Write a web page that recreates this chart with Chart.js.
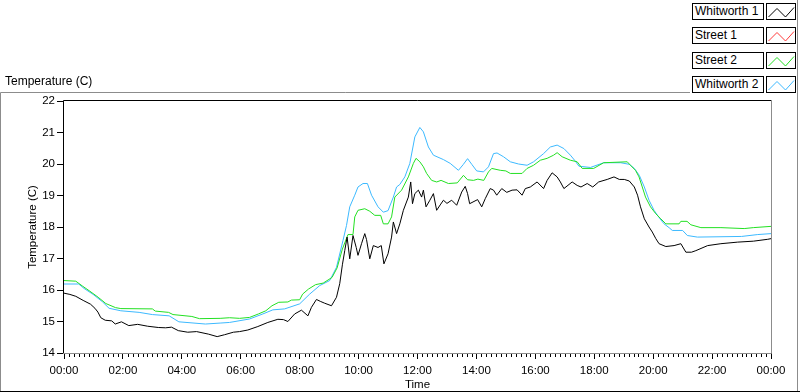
<!DOCTYPE html>
<html><head><meta charset="utf-8">
<script src="https://cdn.jsdelivr.net/npm/chart.js@4.4.1/dist/chart.umd.min.js"></script>
<style>
html,body{margin:0;padding:0;background:#fff;width:800px;height:392px;overflow:hidden;font-family:'Liberation Sans',Arial,sans-serif;}
#wrap{position:relative;width:800px;height:392px;}
#c{position:absolute;left:0;top:0;}
#plotname{position:absolute;left:5px;top:74px;font-size:12px;line-height:14px;color:#000;}
.lname{position:absolute;left:692px;width:68px;height:15px;border:1px solid #000;font-size:12px;line-height:15px;padding-left:2px;box-sizing:content-box;background:#fff;white-space:nowrap;}
.lglyph{position:absolute;left:766px;width:28px;height:15px;border:1px solid #000;background:#fff;}
</style></head>
<body><div id="wrap"><canvas id="c" width="800" height="392"></canvas><div id="plotname">Temperature (C)</div></div>
<script>
// ---- data (time in hours, temperature in °C) ----
const seriesNames = ['Whitworth 1','Street 1','Street 2','Whitworth 2'];
const seriesColors = ['#000000','#ff3a3a','#22e022','#3cb9ff'];
const xTickLabels = ['00:00','02:00','04:00','06:00','08:00','10:00','12:00','14:00','16:00','18:00','20:00','22:00','00:00'];

const w1Hours = [0,0.2,0.4,0.65,0.9,1.05,1.15,1.25,1.4,1.62,1.74,1.95,2.2,2.5,2.84,3.2,3.45,3.65,3.88,4.2,4.5,4.9,5.2,5.45,5.75,5.96,6.24,6.58,6.92,7.26,7.45,7.6,7.83,8.06,8.28,8.4,8.57,8.7,8.85,9.08,9.25,9.36,9.45,9.53,9.61,9.7,9.81,9.92,9.98,10.1,10.21,10.27,10.38,10.5,10.66,10.77,10.86,11,11.12,11.18,11.29,11.4,11.52,11.69,11.77,11.83,11.91,12.03,12.14,12.2,12.29,12.42,12.54,12.65,12.77,12.88,13,13.16,13.33,13.5,13.62,13.7,13.77,14.04,14.18,14.3,14.47,14.58,14.69,14.86,15.03,15.21,15.38,15.55,15.66,15.83,16.06,16.28,16.4,16.57,16.74,16.85,16.97,17.25,17.42,17.55,17.76,17.95,18.15,18.44,18.67,18.85,19.02,19.19,19.36,19.47,19.57,19.7,19.86,19.97,20.09,20.2,20.43,20.71,20.94,21.11,21.3,21.45,21.85,22.3,22.87,23.4,23.89,24];
const w1Temps = [15.9,15.86,15.8,15.67,15.55,15.42,15.3,15.12,15.04,15.02,14.92,14.99,14.87,14.91,14.85,14.81,14.8,14.82,14.71,14.66,14.68,14.6,14.52,14.58,14.66,14.68,14.73,14.84,14.97,15.07,15.06,15,15.24,15.36,15.18,15.45,15.7,15.64,15.58,15.5,15.77,16.2,16.8,17.25,17.68,16.99,17.73,17.35,17.1,17.47,17.79,17.6,16.99,17.41,17.35,17.41,16.83,17.15,17.68,18.16,17.79,18.1,18.53,18.95,19.43,18.74,19.06,19.17,18.95,19.17,18.64,18.85,19.06,18.53,18.7,18.85,18.75,18.85,18.69,19.11,19.29,19.06,18.74,18.87,18.64,18.9,19.22,19.17,19.01,19.22,19.1,19.17,19.18,19.01,19.22,19.27,19.43,19.22,19.48,19.72,19.59,19.43,19.22,19.43,19.32,19.27,19.38,19.27,19.43,19.51,19.59,19.51,19.51,19.46,19.27,19.01,18.64,18.26,18,17.84,17.63,17.47,17.38,17.41,17.47,17.2,17.2,17.25,17.41,17.47,17.52,17.55,17.61,17.63];

const s1Hours = [];
const s1Temps = [];

const s2Hours = [0,0.4,0.62,0.88,1.16,1.42,1.75,1.93,3,3.1,3.55,3.7,4.34,4.6,5.3,5.62,5.96,6.3,6.6,6.85,7.06,7.29,7.6,7.72,8,8.1,8.3,8.54,8.8,9.1,9.27,9.45,9.64,9.81,9.87,9.98,10.21,10.38,10.55,10.75,10.84,11,11.12,11.23,11.46,11.69,11.86,11.95,12.08,12.2,12.31,12.48,12.65,12.8,13.05,13.35,13.56,13.7,13.9,14.05,14.25,14.41,14.52,14.81,15,15.15,15.55,15.72,15.94,16.17,16.4,16.62,16.74,16.91,17.19,17.42,17.59,17.98,18.32,19.12,19.23,19.4,19.52,19.63,19.74,19.91,20.09,20.26,20.43,20.88,20.94,21.15,21.28,21.62,22.3,23.09,23.4,24];
const s2Temps = [16.3,16.28,16.13,15.96,15.77,15.57,15.44,15.41,15.4,15.33,15.29,15.22,15.16,15.09,15.1,15.12,15.1,15.13,15.24,15.34,15.5,15.61,15.62,15.68,15.69,15.87,16.03,16.17,16.22,16.4,16.7,17.3,17.76,17.76,18.32,18.53,18.58,18.5,18.37,18.37,18.1,18.1,18.32,18.95,19.17,19.59,20.02,20.18,20.07,19.91,19.7,19.48,19.43,19.48,19.38,19.4,19.64,19.5,19.48,19.52,19.48,19.75,19.86,19.8,19.78,19.7,19.7,19.86,19.96,20.12,20.18,20.28,20.36,20.23,20.12,20.07,19.86,19.86,20.04,20.07,19.96,19.8,19.59,19.27,18.95,18.64,18.42,18.26,18.1,18.1,18.18,18.18,18.07,17.98,17.98,17.95,17.98,18.02];

const w2Hours = [0,0.5,0.68,0.99,1.3,1.53,1.93,2.55,3,3.57,3.9,4.8,5.3,5.62,6.3,6.75,7.09,7.49,8,8.34,8.68,9.02,9.25,9.47,9.59,9.7,9.87,9.98,10.15,10.3,10.44,10.66,10.84,11,11.18,11.29,11.4,11.57,11.74,11.91,12.08,12.2,12.37,12.54,12.88,13.11,13.39,13.55,13.7,13.85,14.01,14.24,14.41,14.58,14.7,14.92,15.15,15.43,15.72,15.94,16.28,16.51,16.74,16.97,17.19,17.35,17.48,17.87,18.32,18.9,19.19,19.36,19.53,19.7,19.86,20.03,20.2,20.37,20.54,20.65,21,21.16,21.5,23,23.55,24];
const w2Temps = [16.19,16.19,16.05,15.86,15.63,15.42,15.34,15.29,15.22,15.18,14.99,14.92,14.95,14.97,15.08,15.24,15.37,15.4,15.56,15.87,16.14,16.3,16.72,17.57,18.05,18.64,19.01,19.27,19.38,19.38,19.01,18.64,18.47,18.52,18.95,19.27,19.35,19.59,20.02,20.86,21.16,21.02,20.54,20.28,20.14,20.02,19.8,19.98,20.17,19.98,19.78,19.75,19.91,20.33,20.35,20.23,20.07,20,19.96,20.07,20.33,20.54,20.6,20.49,20.28,20.1,19.93,19.89,20.04,20.04,19.99,19.86,19.64,19.27,18.85,18.53,18.3,18.1,17.98,17.89,17.89,17.73,17.68,17.7,17.76,17.79];

const seriesHours = [w1Hours, s1Hours, s2Hours, w2Hours];
const seriesTemps = [w1Temps, s1Temps, s2Temps, w2Temps];

// ---- legend (HTML) ----
const wrap = document.getElementById('wrap');
seriesNames.forEach((n,i)=>{
  const top = 3 + i*24.3;
  const a = document.createElement('div'); a.className='lname'; a.style.top=top+'px'; a.textContent=n; wrap.appendChild(a);
  const g = document.createElement('div'); g.className='lglyph'; g.style.top=top+'px';
  g.innerHTML = '<svg width="28" height="15" style="display:block"><polyline points="1.5,13 10,4.5 18.5,13 27,3.5" fill="none" stroke="'+seriesColors[i]+'" stroke-width="1"/></svg>';
  wrap.appendChild(g);
});

const FONT = {family:"'Liberation Sans', Arial, sans-serif", size:11.5};

const framePlugin = {
  id:'frame',
  afterDraw(chart){
    const ctx = chart.ctx, a = chart.chartArea;
    const L=Math.round(a.left), R=Math.round(a.right), T=Math.round(a.top), B=Math.round(a.bottom);
    ctx.save();
    ctx.lineWidth=1;
    ctx.strokeStyle='#8c8c8c';
    ctx.beginPath();
    ctx.moveTo(0.5,392); ctx.lineTo(0.5,92.5); ctx.lineTo(690,92.5);
    ctx.moveTo(797.5,0); ctx.lineTo(797.5,392);
    ctx.stroke();
    ctx.strokeStyle='#000';
    ctx.beginPath(); ctx.moveTo(0,391.5); ctx.lineTo(800,391.5); ctx.stroke();
    ctx.strokeStyle='#000';
    ctx.beginPath(); ctx.moveTo(L-0.5,B); ctx.lineTo(L-0.5,T-0.5); ctx.lineTo(R,T-0.5); ctx.stroke();
    ctx.strokeStyle='#8c8c8c';
    ctx.beginPath(); ctx.moveTo(L-1,B+0.5); ctx.lineTo(R+0.5,B+0.5); ctx.lineTo(R+0.5,T-1); ctx.stroke();
    const xs = chart.scales.x;
    ctx.strokeStyle='#000';
    ctx.beginPath();
    for(let m=0;m<=144;m++){
      if(m%12===0) continue;
      const px = Math.round(xs.getPixelForValue(m/6))+0.5;
      ctx.moveTo(px,B+1); ctx.lineTo(px,B+4);
    }
    ctx.stroke();
    ctx.restore();
  }
};

new Chart(document.getElementById('c'),{
  type:'line',
  data:{datasets: seriesNames.map((n,i)=>({
    label:n,
    data: seriesHours[i].map((h,k)=>({x:h,y:seriesTemps[i][k]})),
    borderColor: seriesColors[i], backgroundColor: seriesColors[i],
    borderWidth:1, pointRadius:0, tension:0, fill:false
  }))},
  options:{
    responsive:false, animation:false, devicePixelRatio:1,
    layout:{padding:{left:0,top:101,right:29,bottom:0}},
    plugins:{legend:{display:false}, tooltip:{enabled:false}},
    scales:{
      x:{type:'linear', min:0, max:24,
        afterFit(s){ s.height = 39; },
        afterBuildTicks(s){ s.ticks = xTickLabels.map((l,i)=>({value:i*2})); },
        ticks:{font:FONT, color:'#000', padding:5, maxRotation:0, autoSkip:false,
          callback:(v,i)=>xTickLabels[i]},
        grid:{drawOnChartArea:false, color:'#000', tickLength:6, offset:false},
        border:{display:false},
        title:{display:true, text:'Time', font:FONT, color:'#000', padding:{top:0,bottom:0}}
      },
      y:{min:14, max:22,
        afterFit(s){ s.width = 64; },
        ticks:{stepSize:1, font:FONT, color:'#000', padding:2},
        grid:{drawOnChartArea:false, color:'#000', tickLength:7},
        border:{display:false},
        title:{display:true, text:'Temperature (C)', font:FONT, color:'#000', padding:{top:26,bottom:0}}
      }
    }
  },
  plugins:[framePlugin]
});
</script></body></html>
